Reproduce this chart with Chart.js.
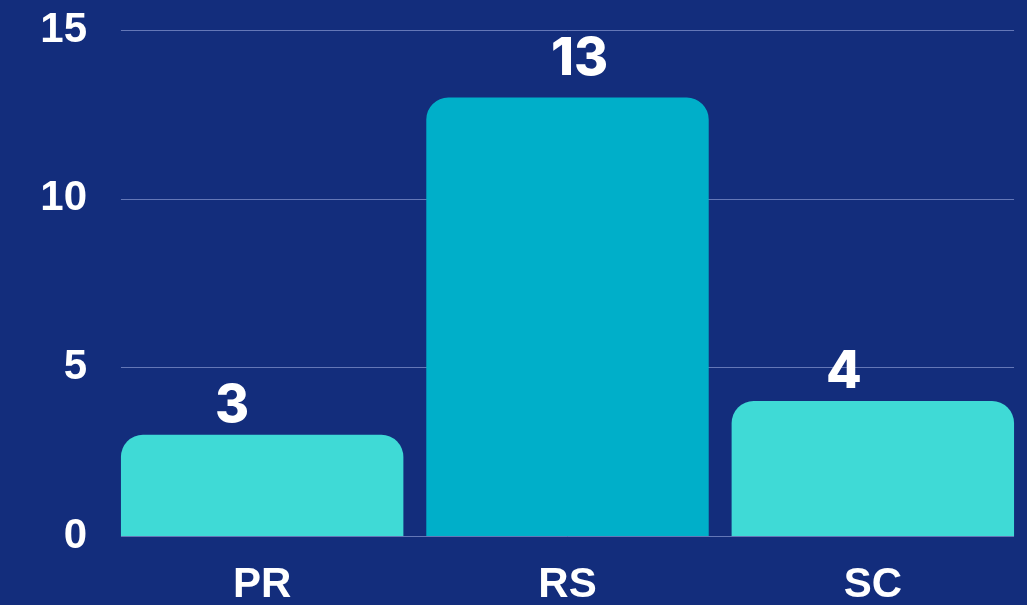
<!DOCTYPE html>
<html>
<head>
<meta charset="utf-8">
<script src="https://cdn.jsdelivr.net/npm/chart.js@4.4.1/dist/chart.umd.min.js"></script>
<style>
  html, body { margin: 0; padding: 0; background: #132d7c; }
  #wrap { width: 1027px; height: 605px; }
</style>
</head>
<body>
<div id="wrap"><canvas id="barChart"></canvas></div>
<script>
// values
const categories = ['PR', 'RS', 'SC'];
const counts = [3, 13, 4];
const barColors = ['#3fdad6', '#00afc9', '#3fdad6'];
const yTicks = [0, 5, 10, 15];

// grid lines only span from the first bar's left edge to the last bar's right edge
const shortGrid = {
    id: 'shortGrid',
    beforeDatasetsDraw(chart, args, opts) {
        const ctx = chart.ctx;
        const bars = chart.getDatasetMeta(0).data;
        const first = bars[0], last = bars[bars.length - 1];
        const x0 = first.x - first.width / 2;
        const x1 = last.x + last.width / 2;
        const y = chart.scales.y;
        ctx.save();
        ctx.strokeStyle = opts.color;
        ctx.lineWidth = 1;
        yTicks.forEach(v => {
            const py = Math.round(y.getPixelForValue(v)) + 0.5;
            ctx.beginPath();
            ctx.moveTo(x0, py);
            ctx.lineTo(x1, py);
            ctx.stroke();
        });
        ctx.restore();
    }
};

// writes the value above each bar
const valueLabels = {
    id: 'valueLabels',
    afterDatasetsDraw(chart, args, opts) {
        const ctx = chart.ctx;
        const meta = chart.getDatasetMeta(0);
        ctx.save();
        ctx.fillStyle = '#ffffff';
        ctx.font = '800 52px Inter, "Noto Sans", sans-serif';
        ctx.textAlign = 'center';
        ctx.textBaseline = 'alphabetic';
        meta.data.forEach((bar, i) => {
            const dx = opts.dx[i] || 0;
            const dy = opts.dy[i] || 0;
            ctx.fillText(String(counts[i]), bar.x + dx, bar.y - opts.gap + dy);
        });
        ctx.restore();
    }
};

document.addEventListener('DOMContentLoaded', function () {
    const data = {
        labels: categories,
        datasets: [{
            data: counts,
            backgroundColor: barColors,
            borderRadius: { topLeft: 22, topRight: 22 },
            borderSkipped: 'bottom',
            barPercentage: 0.925,
            categoryPercentage: 1.0
        }]
    };

    const config = {
        type: 'bar',
        data: data,
        options: {
            responsive: true,
            maintainAspectRatio: false,
            animation: false,
            layout: {
                padding: { top: 30, right: 1.5, left: 0, bottom: 0 }
            },
            plugins: {
                legend: { display: false },
                tooltip: { enabled: false },
                shortGrid: { color: 'rgba(200, 210, 255, 0.45)' },
                valueLabels: { gap: 13, dx: [-30, 12, -29], dy: [0, -9, 0] }
            },
            scales: {
                x: {
                    grid: { display: false },
                    border: { display: false },
                    afterFit: function (scale) {
                        scale.height = 69;
                    },
                    ticks: {
                        color: '#ffffff',
                        padding: 16,
                        font: { family: '"Liberation Sans", Arial, sans-serif', size: 42, weight: 'bold' }
                    }
                },
                y: {
                    min: 0,
                    max: 15,
                    afterBuildTicks: function (scale) {
                        scale.ticks = yTicks.map(v => ({ value: v }));
                    },
                    afterFit: function (scale) {
                        scale.width = 109.5;
                        scale.paddingTop = 0;
                        scale.paddingBottom = 0;
                    },
                    grid: { display: false },
                    border: { display: false },
                    ticks: {
                        color: '#ffffff',
                        padding: 14.5,
                        font: { family: '"Liberation Sans", Arial, sans-serif', size: 42, weight: 'bold' }
                    }
                }
            }
        },
        plugins: [shortGrid, valueLabels]
    };

    const barChart = new Chart(document.getElementById('barChart'), config);
});
</script>
</body>
</html>
